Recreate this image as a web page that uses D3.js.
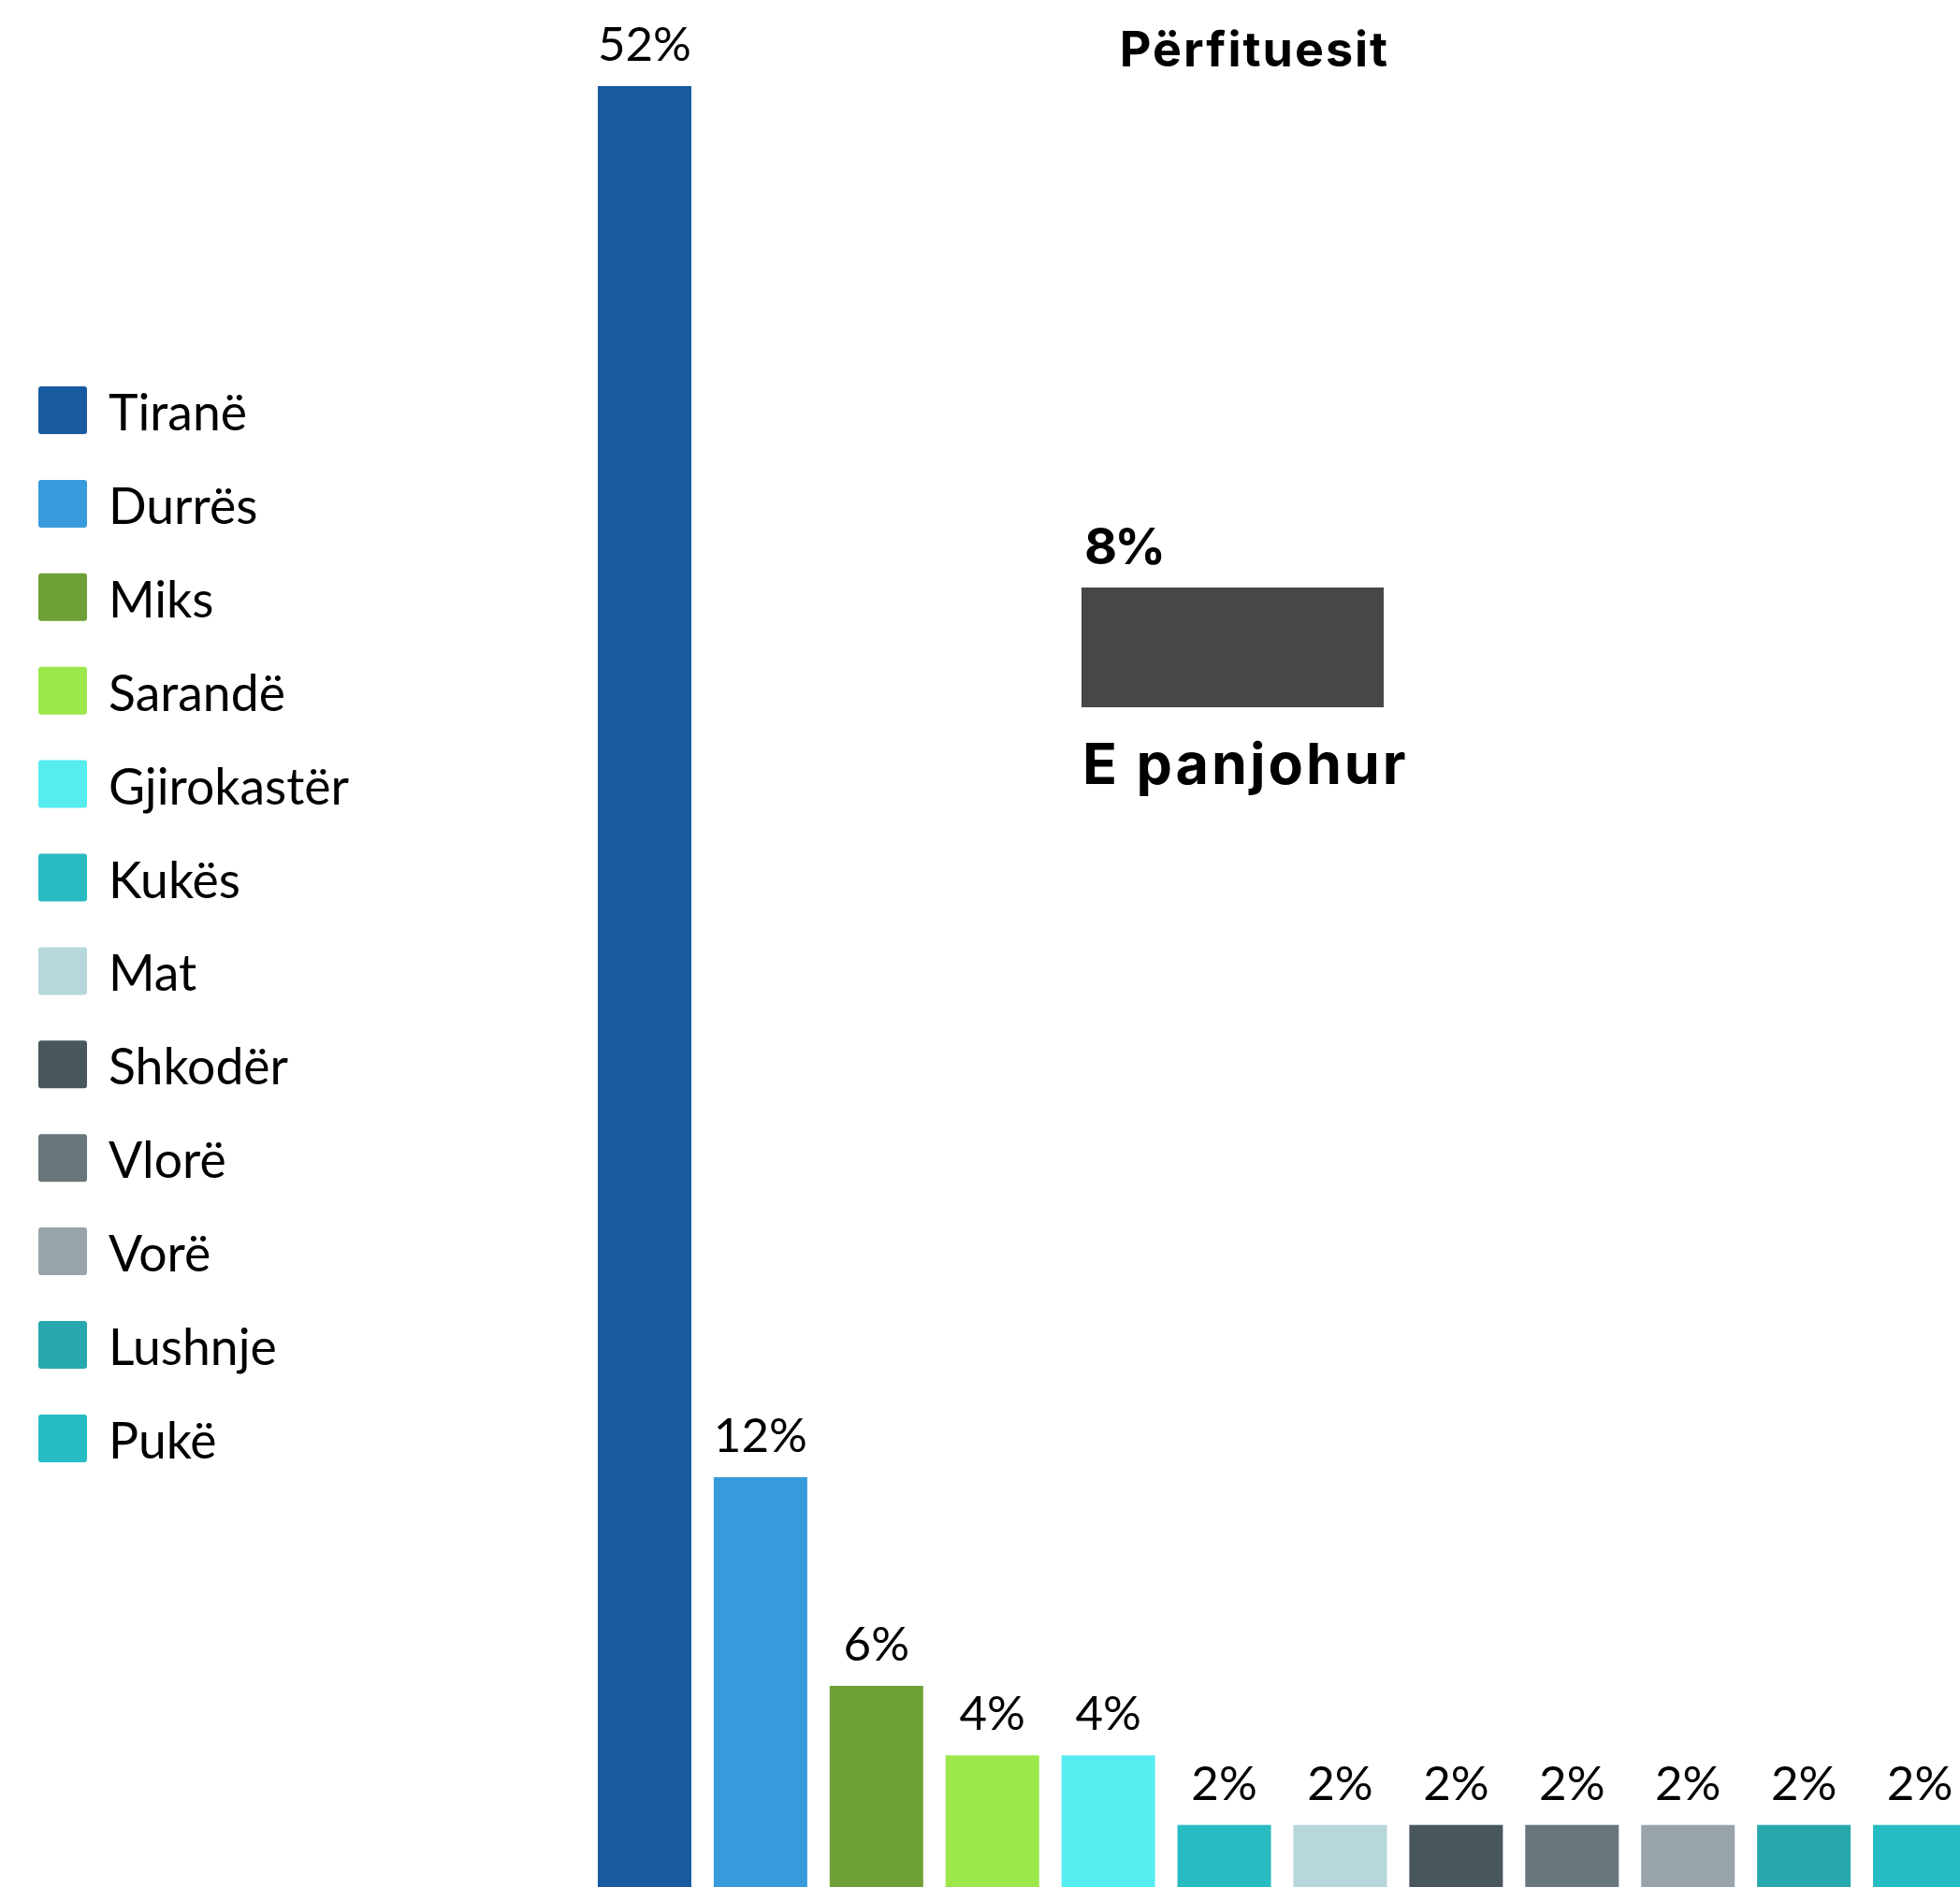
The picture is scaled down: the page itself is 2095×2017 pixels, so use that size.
<!DOCTYPE html>
<html>
<head>
<meta charset="utf-8">
<script src="https://cdn.jsdelivr.net/npm/d3@7"></script>
<style>
  html, body { margin: 0; padding: 0; background: #fff; }
  svg { display: block; }
</style>
</head>
<body>
<div id="chart"></div>
<script>
// ---- data ----
const categories = ["Tiranë", "Durrës", "Miks", "Sarandë", "Gjirokastër", "Kukës", "Mat", "Shkodër", "Vlorë", "Vorë", "Lushnje", "Pukë"];
const values = [52, 12, 6, 4, 4, 2, 2, 2, 2, 2, 2, 2];
const colors = ["#175aa0", "#379bdb", "#6fa037", "#9ce84a", "#57ecf0", "#28bbc2", "#b6d7dc", "#48575c", "#68777b", "#98a4a9", "#27a8ad", "#27bcc3"];
const unknownLabel = "E panjohur";
const unknownValue = 8;
const unknownColor = "#474747";
const title = "Përfituesit";

// ---- layout ----
const W = 2095, H = 2017;
const svg = d3.select("#chart").append("svg").attr("width", W).attr("height", H);

const x = d3.scaleBand().domain(categories).range([627, 2114]).paddingInner(0.193).paddingOuter(0.0965);
const y = d3.scaleLinear().domain([0, 52]).range([2025, 92]);
const fmt = v => v + "%";

// bars
const bars = svg.append("g");
bars.selectAll("rect").data(categories).join("rect")
  .attr("x", d => x(d))
  .attr("width", x.bandwidth())
  .attr("y", (d, i) => y(values[i]))
  .attr("height", (d, i) => y(0) - y(values[i]))
  .attr("fill", (d, i) => colors[i]);

bars.selectAll("text").data(categories).join("text")
  .attr("x", d => x(d) + x.bandwidth() / 2)
  .attr("y", (d, i) => y(values[i]) - 27)
  .attr("text-anchor", "middle")
  .attr("font-family", "Lato")
  .attr("font-size", 51)
  .attr("fill", "#000")
  .text((d, i) => fmt(values[i]));

// legend
const leg = svg.append("g").attr("transform", "translate(41,413)");
const li = leg.selectAll("g").data(categories).join("g")
  .attr("transform", (d, i) => `translate(0,${i * 99.9})`);
li.append("rect").attr("width", 52).attr("height", 51).attr("rx", 3).attr("ry", 3)
  .attr("fill", (d, i) => colors[i]);
li.append("text").attr("x", 75).attr("y", 47)
  .attr("font-family", "Lato").attr("font-size", 53.5).attr("fill", "#000")
  .text(d => d);

// title
svg.append("text").attr("x", 1341).attr("y", 71)
  .attr("text-anchor", "middle")
  .attr("font-family", "Inter").attr("font-weight", 700).attr("font-size", 52)
  .attr("letter-spacing", 2)
  .attr("fill", "#000").text(title);

// unknown box
const ux = d3.scaleLinear().domain([0, unknownValue]).range([1156, 1479]);
const ug = svg.append("g");
ug.append("rect").attr("x", ux(0)).attr("y", 628)
  .attr("width", ux(unknownValue) - ux(0)).attr("height", 128)
  .attr("fill", unknownColor);
ug.append("text").attr("x", ux(0) + 3).attr("y", 603)
  .attr("font-family", "Inter").attr("font-weight", 700).attr("font-size", 54)
  .attr("letter-spacing", -3)
  .attr("fill", "#000").text(fmt(unknownValue));
ug.append("text").attr("x", ux(0) + 1).attr("y", 838)
  .attr("font-family", "Inter").attr("font-weight", 700).attr("font-size", 61)
  .attr("letter-spacing", 3)
  .attr("fill", "#000").text(unknownLabel);
</script>
</body>
</html>
